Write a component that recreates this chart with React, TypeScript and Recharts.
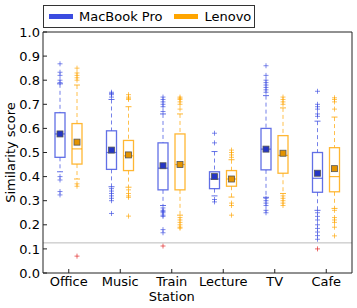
import { ComposedChart, Bar, XAxis, YAxis, Legend, ReferenceLine } from 'recharts';

const FONT = '"DejaVu Sans", sans-serif';
const BLUE = '#3b4ce0';
const ORANGE = '#ffa500';

const categories = ['Office', 'Music', 'Train\nStation', 'Lecture', 'TV', 'Cafe'];
const seriesNames = ['MacBook Pro', 'Lenovo'];
const yTicks = [0, 0.1, 0.2, 0.3, 0.4, 0.5, 0.6, 0.7, 0.8, 0.9, 1.0];
const threshold = 0.125;

// MacBook Pro
const mbpLow = [0.42, 0.358, 0.28, 0.32, 0.314, 0.26];
const mbpQ1 = [0.48, 0.43, 0.345, 0.35, 0.428, 0.335];
const mbpMedian = [0.577, 0.5, 0.435, 0.39, 0.514, 0.393];
const mbpQ3 = [0.665, 0.59, 0.54, 0.42, 0.6, 0.5];
const mbpHigh = [0.785, 0.72, 0.66, 0.504, 0.736, 0.63];
const mbpMean = [0.577, 0.51, 0.445, 0.4, 0.514, 0.414];
const mbpOutliers = [
  [0.868, 0.833, 0.82, 0.8, 0.79, 0.4, 0.386, 0.338, 0.324],
  [0.75, 0.745, 0.74, 0.73, 0.35, 0.34, 0.33, 0.32, 0.31, 0.3, 0.247],
  [0.73, 0.72, 0.71, 0.7, 0.69, 0.67, 0.27, 0.26, 0.255, 0.25, 0.24, 0.235, 0.18, 0.167, 0.112],
  [0.58, 0.54, 0.305, 0.295],
  [0.86, 0.82, 0.8, 0.79, 0.78, 0.77, 0.76, 0.75, 0.31, 0.3, 0.29, 0.28, 0.26, 0.25],
  [0.754, 0.7, 0.69, 0.68, 0.66, 0.65, 0.25, 0.235, 0.22, 0.2, 0.185, 0.17, 0.155, 0.14, 0.1],
];

// Lenovo
const lenLow = [0.39, 0.356, 0.24, 0.315, 0.33, 0.268];
const lenQ1 = [0.452, 0.425, 0.345, 0.36, 0.414, 0.337];
const lenMedian = [0.515, 0.486, 0.45, 0.39, 0.488, 0.4];
const lenQ3 = [0.62, 0.55, 0.577, 0.425, 0.57, 0.52];
const lenHigh = [0.78, 0.69, 0.66, 0.47, 0.685, 0.647];
const lenMean = [0.543, 0.49, 0.45, 0.39, 0.497, 0.433];
const lenOutliers = [
  [0.85, 0.83, 0.82, 0.81, 0.8, 0.37, 0.36, 0.07],
  [0.74, 0.73, 0.725, 0.72, 0.345, 0.33, 0.32, 0.314, 0.236],
  [0.73, 0.725, 0.72, 0.71, 0.7, 0.68, 0.23, 0.22, 0.21, 0.2, 0.19, 0.186],
  [0.51, 0.5, 0.49, 0.48, 0.29, 0.28, 0.24],
  [0.73, 0.72, 0.71, 0.7, 0.32, 0.31, 0.3, 0.29, 0.28],
  [0.727, 0.72, 0.71, 0.68, 0.26, 0.23, 0.22, 0.21, 0.19, 0.154],
];

type Stats = { lo: number; q1: number; med: number; q3: number; hi: number; mean: number; out: number[] };

const data = categories.map((name, i) => ({
  name,
  mbp: { lo: mbpLow[i], q1: mbpQ1[i], med: mbpMedian[i], q3: mbpQ3[i], hi: mbpHigh[i], mean: mbpMean[i], out: mbpOutliers[i] },
  len: { lo: lenLow[i], q1: lenQ1[i], med: lenMedian[i], q3: lenQ3[i], hi: lenHigh[i], mean: lenMean[i], out: lenOutliers[i] },
}));

// box glyph: the bar spans the whisker range, other values are placed on the same scale
const BoxGlyph = (props: any) => {
  const { x, y, width, height, stats, color, meanColor } = props;
  const s: Stats = stats;
  const top = Math.min(y, y + height);
  const ppu = Math.abs(height) / (s.hi - s.lo);
  const py = (v: number) => top + (s.hi - v) * ppu;
  const cx = x + width / 2;
  return (
    <g>
      <line x1={cx} x2={cx} y1={py(s.hi)} y2={py(s.q3)} stroke={color} strokeDasharray="4 3" strokeOpacity={0.7} />
      <line x1={cx} x2={cx} y1={py(s.q1)} y2={py(s.lo)} stroke={color} strokeDasharray="4 3" strokeOpacity={0.7} />
      <line x1={cx - 3} x2={cx + 3} y1={py(s.hi)} y2={py(s.hi)} stroke={color} strokeOpacity={0.8} />
      <line x1={cx - 3} x2={cx + 3} y1={py(s.lo)} y2={py(s.lo)} stroke={color} strokeOpacity={0.8} />
      <rect x={x} y={py(s.q3)} width={width} height={py(s.q1) - py(s.q3)} fill="#fff" stroke={color} strokeWidth={1.3} strokeOpacity={0.8} />
      <line x1={x} x2={x + width} y1={py(s.med)} y2={py(s.med)} stroke={color} strokeWidth={1.2} strokeOpacity={0.8} />
      {s.out.map((v, k) => {
        const c = v < threshold ? '#e02020' : color;
        return (
          <g key={k} stroke={c} strokeOpacity={0.65}>
            <line x1={cx - 2.5} x2={cx + 2.5} y1={py(v)} y2={py(v)} />
            <line x1={cx} x2={cx} y1={py(v) - 2.5} y2={py(v) + 2.5} />
          </g>
        );
      })}
      <rect x={cx - 3} y={py(s.mean) - 3} width={6} height={6} fill={meanColor} stroke="#555" strokeWidth={0.8} />
    </g>
  );
};

const CatTick = (props: any) => {
  const { x, y, payload } = props;
  const lines = String(payload.value).split('\n');
  return (
    <text x={x} y={y} textAnchor="middle" fontSize={13} fontFamily={FONT} fill="#000">
      {lines.map((l, i) => (
        <tspan key={i} x={x} dy={i === 0 ? 10 : 15}>
          {l}
        </tspan>
      ))}
    </text>
  );
};

const LegendBox = (props: any) => {
  const items = [...(props.payload || [])].sort((a: any, b: any) => seriesNames.indexOf(a.value) - seriesNames.indexOf(b.value));
  return (
    <div
      style={{
        display: 'inline-flex',
        alignItems: 'center',
        height: 23,
        boxSizing: 'border-box',
        border: '1px solid #333',
        padding: '0 3px 0 5px',
        background: '#fff',
        fontFamily: FONT,
        fontSize: 13,
        color: '#000',
        whiteSpace: 'nowrap',
      }}
    >
      {items.map((e: any, i: number) => (
        <span key={e.value} style={{ display: 'inline-flex', alignItems: 'center', marginLeft: i ? 12 : 0 }}>
          <span style={{ display: 'inline-block', width: 24, height: 5, background: e.color, marginRight: 6 }} />
          {e.value}
        </span>
      ))}
    </div>
  );
};

const App = () => {
  return (
    <div style={{ position: 'absolute', left: 0, top: 0 }}>
      <ComposedChart width={357} height={308} data={data} margin={{ top: 5, right: 0, bottom: 0, left: 0 }} barSize={10} barGap={7}>
        <Legend verticalAlign="top" align="left" content={<LegendBox />} wrapperStyle={{ left: 43, top: 5, width: 'auto' }} />
        <XAxis
          dataKey="name"
          height={35}
          tickSize={-4}
          tickMargin={7}
          tick={<CatTick />}
          interval={0}
          axisLine={{ stroke: '#222' }}
          tickLine={{ stroke: '#222' }}
        />
        <XAxis xAxisId="top" dataKey="name" orientation="top" height={4} tickSize={-4} tick={false} axisLine={{ stroke: '#222' }} tickLine={{ stroke: '#222' }} />
        <YAxis
          domain={[0, 1]}
          ticks={yTicks}
          width={43}
          tickSize={-4}
          tickMargin={7}
          tickFormatter={(v: number) => v.toFixed(1)}
          tick={{ fontSize: 13, fontFamily: FONT, fill: '#000' }}
          axisLine={{ stroke: '#222' }}
          tickLine={{ stroke: '#222' }}
          label={{ value: 'Similarity score', angle: -90, position: 'insideLeft', offset: 10, style: { textAnchor: 'middle', fontSize: 13, fontFamily: FONT, fill: '#000' } }}
        />
        <YAxis yAxisId="right" orientation="right" domain={[0, 1]} ticks={yTicks} allowDataOverflow width={5} tickSize={-4} tick={false} axisLine={{ stroke: '#222' }} tickLine={{ stroke: '#222' }} />
        <ReferenceLine y={threshold} stroke="#bbb" strokeWidth={1} />
        <Bar
          name="MacBook Pro"
          dataKey={(r: any) => [r.mbp.lo, r.mbp.hi]}
          fill={BLUE}
          isAnimationActive={false}
          shape={(p: any) => <BoxGlyph {...p} stats={p.payload.mbp} color={BLUE} meanColor="#2536c4" />}
        />
        <Bar
          name="Lenovo"
          dataKey={(r: any) => [r.len.lo, r.len.hi]}
          fill={ORANGE}
          isAnimationActive={false}
          shape={(p: any) => <BoxGlyph {...p} stats={p.payload.len} color={ORANGE} meanColor="#e39300" />}
        />
      </ComposedChart>
    </div>
  );
};

export default App;
